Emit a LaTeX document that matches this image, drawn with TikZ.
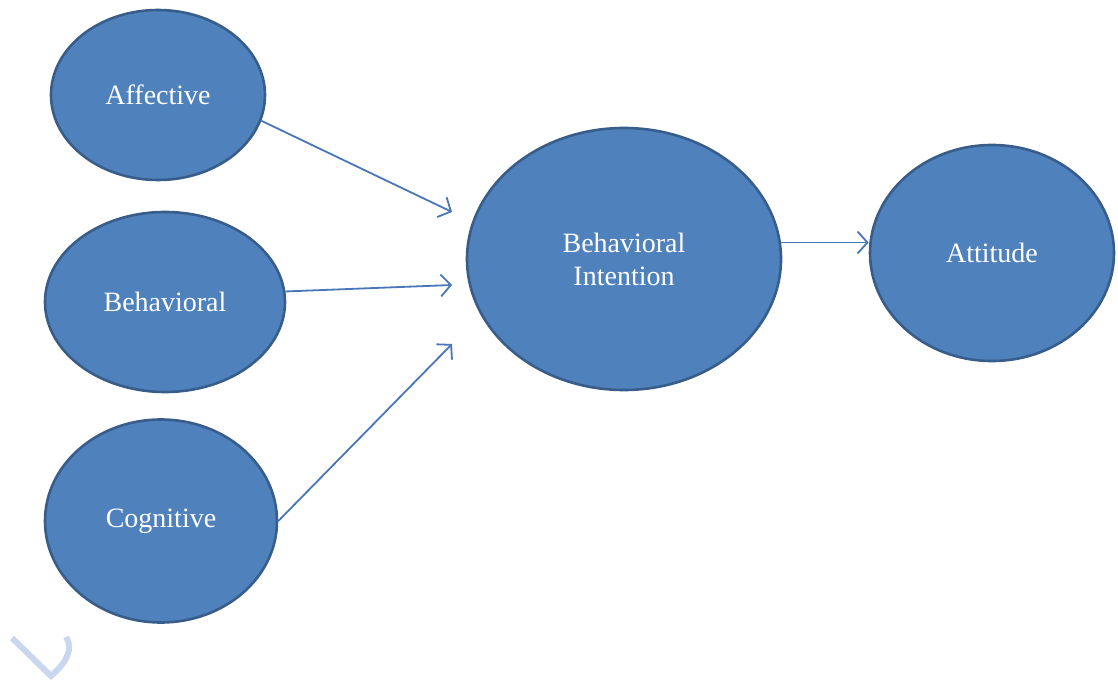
\documentclass[tikz,border=0pt]{standalone}
\usepackage{fontspec}
\setmainfont{Liberation Serif}
\usetikzlibrary{shapes.geometric,arrows.meta}
\definecolor{fillblue}{HTML}{4F81BD}
\definecolor{edgeblue}{HTML}{385D8A}
\definecolor{arrowblue}{HTML}{4A76B8}
\definecolor{wmblue}{HTML}{C8D6EE}
\tikzset{
  oval/.style={ellipse, draw=edgeblue, line width=2.6pt, fill=fillblue, inner sep=0pt,
    text=white, font=\fontsize{28}{33}\selectfont, align=center},
  conn/.style={draw=arrowblue, line width=1.8pt, -{Straight Barb[length=10pt,width=22pt,line width=1.8pt]}}
}
\begin{document}
\begin{tikzpicture}[x=1pt,y=1pt]
\useasboundingbox (0,0) rectangle (1118,681);
\node[oval, minimum width=214pt, minimum height=170pt] (aff) at (158,586) {Affective};
\node[oval, minimum width=240pt, minimum height=180pt] (beh) at (165,379) {Behavioral};
\node[oval, minimum width=232pt, minimum height=203pt] (cog) at (161,160) {Cognitive};
\node[oval, minimum width=314pt, minimum height=262pt] (bi) at (624,422) {Behavioral\\Intention};
\node[oval, minimum width=244pt, minimum height=216pt] (att) at (992,428) {Attitude};
\coordinate (t1) at (452,469);
\coordinate (t2) at (452,396);
\coordinate (t3) at (452,337);
\draw[conn] (aff.-14) -- (t1);
\draw[conn] (beh.5) -- (t2);
\draw[conn] (cog.0) -- (t3);
\draw[conn] (bi.6) -- (bi.6 -| att.west);
\draw[wmblue, line width=6pt] (12,43) -- (51,5) .. controls (66,18) and (74,32) .. (66,44);
\end{tikzpicture}
\end{document}
